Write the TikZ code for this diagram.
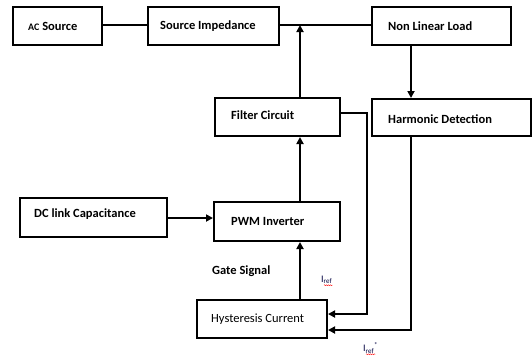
\documentclass[tikz,border=0pt]{standalone}
\usepackage{fontspec}
\setmainfont{Carlito}
\usetikzlibrary{arrows.meta,calc,decorations.pathmorphing}
\begin{document}
\begin{tikzpicture}[x=1pt,y=-1pt,
  box/.style={draw=black,line width=2pt,rectangle,inner sep=0pt},
  lbl/.style={anchor=west,font=\bfseries\fontsize{12.5}{14}\selectfont,inner sep=0pt},
  conn/.style={line width=2pt},
  arr/.style={conn,-{Triangle[length=7pt,width=7pt]}},
  sig/.style={font=\fontsize{10}{11}\selectfont,inner sep=0pt,text=black!75!blue}
]
\useasboundingbox (0,0) rectangle (532,360);
% boxes
\node[box,minimum width=89pt,minimum height=38pt] (ac) at (57.5,26) {};
\node[box,minimum width=131pt,minimum height=38pt] (si) at (213.5,26) {};
\node[box,minimum width=139pt,minimum height=38pt] (nll) at (441.5,26) {};
\node[box,minimum width=125pt,minimum height=38pt] (fc) at (277.5,117) {};
\node[box,minimum width=159pt,minimum height=37pt] (hd) at (451.5,117.5) {};
\node[box,minimum width=147pt,minimum height=39pt] (dc) at (93.5,217.5) {};
\node[box,minimum width=126pt,minimum height=39pt] (pwm) at (277,221.5) {};
\node[box,minimum width=130pt,minimum height=38pt] (hy) at (262,319) {};
% labels
\node[lbl] (tac) at ($(ac.west)+(16,0.5)$) {{\fontsize{10}{12}\selectfont AC} Source};
\node[lbl] (tsi) at ($(si.west)+(13,0)$) {Source Impedance};
\node[lbl] (tnll) at ($(nll.west)+(17,0)$) {Non Linear Load};
\node[lbl] (tfc) at ($(fc.west)+(17,-2)$) {Filter Circuit};
\node[lbl] (thd) at ($(hd.west)+(17,2)$) {Harmonic Detection};
\node[lbl] (tdc) at ($(dc.west)+(15,-3)$) {DC link Capacitance};
\node[lbl] (tpwm) at ($(pwm.west)+(18,0)$) {PWM Inverter};
\node[lbl,font=\fontsize{12.5}{14}\selectfont] (thy) at ($(hy.west)+(15,0)$) {Hysteresis Current};
\node[lbl] (gate) at (212,271) {Gate Signal};
\node[sig,anchor=west] (iref) at (321,280) {I\textsubscript{ref}};
\node[sig,anchor=west] (iref2) at (363,348) {I\textsubscript{ref}\textsuperscript{*}};
\draw[red,line width=0.4pt,decorate,decoration={snake,amplitude=0.5pt,segment length=2pt}] ($(iref.south west)+(3,1)$) -- ($(iref.south east)+(0,1)$);
\draw[red,line width=0.4pt,decorate,decoration={snake,amplitude=0.5pt,segment length=2pt}] ($(iref2.south west)+(3,1)$) -- ($(iref2.south east)+(-3,1)$);
% junctions
\coordinate (j) at (300,25);
\coordinate (k) at (411,25);
\coordinate (fr) at (367,113);
\coordinate (hr) at (411,330);
% connectors
\draw[conn] (ac.east |- j) -- (si.west |- j);
\draw[conn] (si.east |- j) -- (nll.west |- j);
\draw[arr] (fc.north -| j) -- (j);
\draw[arr] (nll.south -| k) -- (hd.north -| k);
\draw[arr] (fc.east |- fr) -- (fr) -- (fr |- 0,314) -- (hy.east |- 0,314);
\draw[arr] (hd.south -| hr) -- (hr) -- (hy.east |- hr);
\draw[arr] (dc.east |- 0,218) -- (pwm.west |- 0,218);
\draw[arr] (pwm.north -| j) -- (fc.south -| j);
\draw[arr] (hy.north -| j) -- (pwm.south -| j);
\end{tikzpicture}
\end{document}
